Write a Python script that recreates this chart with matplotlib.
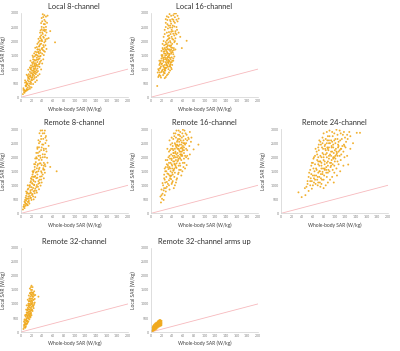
import matplotlib
matplotlib.use("Agg")
import matplotlib.pyplot as plt

# whole-body SAR (W/kg) vs local SAR (W/kg)
local8 = [(4,110),(6,185),(7,255),(5,320),(9,215),(10,385),(11,290),(12,455),(13,345),(8,520),(9,410),(12,265),(15,415),(16,485),(11,505),(17,365),(13,605),(18,565),(10,545),(19,470),
          (14,705),(16,650),(18,780),(20,620),(21,855),(22,720),(17,905),(19,985),(24,880),(25,760),(23,950),(15,820),(26,1005),(27,905),(20,1055),(22,1105),(28,825),(18,1020),(24,1085),(29,965),(21,690),(16,745),(26,690),(30,885),(13,760),(19,860),(23,810),(25,930),(27,1040),(31,1020),
          (25,1205),(27,1305),(29,1155),(31,1255),(23,1350),(26,1455),(30,1405),(32,1105),(28,1505),(33,1350),(35,1205),(24,1255),(36,1455),(22,1185),(34,1555),(30,1605),(38,1305),(27,1620),(31,1485),(37,1585),(29,1330),(33,1450),(26,1150),(35,1380),
          (32,1705),(34,1805),(36,1655),(38,1905),(33,1955),(40,1755),(35,2005),(42,1855),(30,1785),(39,2055),(41,1685),(37,2105),(44,1955),(36,1885),(43,1650),(31,1900),
          (38,2205),(40,2305),(42,2155),(44,2405),(39,2505),(41,2255),(46,2205),(43,2605),(40,2705),(45,2355),(42,2855),(47,2505),(44,2755),(50,2905),(41,2955),(48,2305),(46,2055),(64,1955),(52,2105),(55,2355),(37,2380),(49,2650),
          (5,260),(8,230),(11,240),(14,280),(17,300),(7,160),(20,350),(8,600),(12,480),(15,560),(19,520),(23,470),(27,540),(30,600),(10,430),(21,610),
          (11,800),(14,680),(18,730),(22,790),(26,850),(29,720),(32,770),(35,820),(20,700),(24,640),
          (14,980),(17,1060),(21,940),(24,1010),(28,1100),(32,930),(35,1080),(38,990),(30,1150),(26,1120),(19,1130),
          (18,1300),(21,1240),(25,1330),(28,1210),(32,1340),(36,1260),(40,1200),(42,1350),(34,1170),(23,1430),
          (22,1480),(25,1560),(29,1520),(33,1600),(37,1470),(40,1550),(43,1500),(45,1620),(35,1700),
          (27,1760),(31,1700),(35,1830),(39,1720),(43,1790),(46,1850),(48,1720),(33,1620),
          (33,2080),(36,2150),(40,2000),(43,2120),(46,2000),(49,2080),(38,2010),
          (36,2300),(39,2420),(42,2380),(45,2600),(47,2400),(38,2640),(43,2480),(46,2700),(39,2820),(44,2920),(47,2870)]

local16 = [(12,400),(14,720),(16,800),(13,880),(18,760),(15,950),(17,1020),(20,900),(19,1100),(22,980),(16,1150),(21,1200),(24,1080),(18,1250),(23,1300),(26,1150),(20,1380),(25,1420),(28,1250),(22,1500),(27,1550),(30,1350),(24,1620),(29,1680),(32,1450),(26,1750),(31,1800),(34,1550),(28,1880),(33,1950),(36,1650),(30,2020),(35,2100),(38,1780),(32,2180),(37,2250),(40,1900),(34,2320),(39,2400),(42,2050),(36,2480),(41,2550),(44,2200),(38,2620),(43,2700),(46,2350),(40,2780),(45,2850),(48,2500),(42,2920),(47,2980),(35,2960),(30,2880),(28,2650),(26,2400),(24,2150),(22,1900),(20,1650),(50,2700),(52,2300),(55,2150),(67,2010),(58,1750),(49,1900),(46,1700),(44,1450),(42,1300),(40,1150),(38,1050),(36,950),(34,880),(32,820),(30,780),(28,720),(26,680),(25,850),(27,950),(29,1050),(31,1120),(33,1200),(35,1280),(37,1350),(39,1420),(41,1600),(43,1750),(45,2000),(33,1000),(35,1100),(31,1400),(29,1500),(27,1700),(25,1850),(23,1700),(21,1450),(19,1300),(17,1200),(38,1550),(36,1400),(34,1300),(32,1250),(30,1150),(28,1050),(26,950),(24,900),(37,1950),(39,2150),(41,2350),(33,2550),(31,2750),(36,2750),
           (15,760),(19,700),(23,790),(17,880),(21,940),(26,860),(14,1000),(18,1050),(23,1120),(27,1010),(32,1080),(36,1150),(39,1000),(16,1300),(20,1180),(24,1260),(29,1210),(33,1330),(37,1240),(40,1300),(42,1380),(20,1500),(25,1560),(30,1620),(34,1480),(38,1600),(42,1530),(22,1750),(26,1640),(31,1720),(35,1840),(40,1760),(43,1680),(24,2000),(28,1960),(32,2060),(36,2000),(40,2080),(44,1960),(46,2100),(26,2250),(30,2300),(34,2200),(38,2330),(42,2260),(46,2280),(48,2240),(28,2500),(32,2450),(36,2550),(40,2480),(44,2520),(49,2400),(28,2780),(33,2850),(38,2900),(42,2760),(45,2650),(50,2900),(52,2800),(31,2600),(37,2700),(44,2980),(48,2760),(30,1900),(34,2100),(38,1850),(27,1350),(31,1550),(35,1700),(23,1400),
           (26,1050),(29,1150),(33,1250),(36,1100),(30,1300),(34,1420),(27,1480),(31,1580),(35,1520),(38,1700),(32,1850),(29,1780),(36,1820),(33,1700),(28,1400),(37,1180),(24,1350),(40,1650),(39,1250),(25,1000)]

remote8 = [(4,140),(5,235),(6,305),(7,190),(8,385),(9,270),(10,455),(11,340),(12,525),(8,480),(13,410),(14,605),(10,625),(15,535),(16,705),(12,745),(17,620),(18,825),(14,885),(19,725),(20,935),(16,985),(21,845),(22,1055),(18,1105),(23,905),(24,1155),(20,1225),(25,1005),(26,1305),(22,1385),(27,1125),(28,1455),(24,1505),(29,1255),(30,1605),(26,1655),(31,1385),(32,1755),(28,1825),(33,1505),(34,1905),(30,1955),(35,1625),(36,2055),(32,2155),(37,1785),(38,2255),(34,2355),(39,1905),(40,2455),(36,2555),(41,2105),(42,2655),(38,2755),(43,2305),(44,2855),(40,2955),(46,2505),(48,2205),(45,2005),(50,1805),(67,1500),(55,1655),(52,2405),(47,2755),
           (12,300),(15,410),(18,560),(21,655),(24,785),(27,880),(30,1010),(33,1150),(36,1310),(39,1450),(42,1610),(45,1750),(20,480),(23,605),(26,720),(29,805),(32,950),(35,1085),(38,1205),(41,1385),(44,1555),(9,560),(11,705),(13,850),(17,1005),(19,1150),(21,1305),(23,1455),(25,1755),(27,1955),(29,2155),(31,2355),(33,2605),(35,2855),
           (6,250),(9,340),(13,290),(16,350),(7,420),(11,520),(15,470),(19,550),(24,500),(27,580),(10,780),(14,700),(18,760),(22,690),(26,810),(30,740),(34,860),(13,1000),(17,940),(21,1080),(25,1020),(29,940),(33,1060),(37,990),(39,1100),(19,1250),(23,1200),(27,1330),(31,1270),(35,1200),(39,1320),(43,1250),(22,1500),(26,1560),(30,1480),(34,1580),(38,1500),(42,1560),(45,1450),(27,1750),(31,1700),(35,1780),(39,1720),(43,1800),(46,1680),(29,2000),(33,2050),(37,1980),(41,2000),(45,2100),(49,1980),(31,2300),(35,2200),(39,2350),(43,2250),(47,2300),(34,2500),(38,2650),(42,2450),(46,2700),(41,2850),(45,2950),(37,2950),(48,2600),(43,1700),(24,1300)]

remote16 = [(19,390),(21,520),(18,600),(24,480),(22,700),(26,650),(20,850),(25,900),(28,780),(23,1000),(30,950),(27,1100),(32,1050),(25,1250),(34,1180),(29,1300),(36,1250),(31,1420),(38,1350),(27,1500),(40,1450),(33,1580),(42,1520),(35,1650),(44,1600),(30,1750),(46,1700),(37,1800),(48,1780),(39,1900),(50,1850),(33,2000),(52,1950),(41,2050),(54,2000),(43,2150),(56,2100),(36,2250),(58,2200),(45,2300),(60,2250),(47,2400),(62,2350),(40,2500),(64,2450),(49,2550),(66,2500),(51,2650),(68,2600),(44,2750),(70,2700),(53,2800),(55,2900),(48,2950),(60,2980),(65,2850),(58,2700),(62,2150),(57,1900),(55,1700),(53,1550),(51,1400),(49,1250),(47,1100),(45,1000),(43,900),(41,1150),(39,1050),(37,1500),(35,1350),(63,1800),(66,2000),(68,2250),(72,2400),(75,2550),(80,2280),(89,2450),(73,2100),(70,1950),(61,1650),(59,1500),(57,1350),(46,2000),(50,2150),(52,2300),(54,2450),(56,2600),(42,1850),(44,2050),(46,2200),(48,2350),(38,2100),(36,1950),(34,1800),(32,1650),(42,2650),(46,2850),(50,2420),(58,2530),(61,2750),(26,1600),(28,1900),(31,2300),(67,1720),(64,1600),(35,2600),(54,1780),(56,2320),
            (20,650),(24,820),(28,900),(22,1080),(26,1200),(30,1120),(34,1000),(38,1220),(25,1380),(29,1500),(33,1400),(37,1320),(41,1380),(45,1450),(28,1650),(32,1720),(36,1600),(40,1700),(44,1760),(48,1620),(52,1700),(31,1900),(35,2050),(39,1950),(43,1980),(47,1900),(51,2050),(55,1950),(59,2050),(34,2200),(38,2300),(42,2250),(46,2150),(50,2300),(54,2200),(58,2350),(62,2250),(66,2300),(37,2450),(41,2400),(45,2500),(49,2450),(53,2550),(57,2450),(61,2500),(65,2650),(39,2700),(43,2850),(47,2700),(51,2800),(55,2750),(59,2850),(63,2950),(67,2800),(52,2950),(44,1300),(48,1200),(52,1450),(56,1550),(60,1800),(64,2050),(68,2050),(71,2650),(76,2700),(73,2900),(40,1100),(35,850),
            (40,1600),(44,1850),(48,2100),(52,2400),(56,2200),(60,2400),(47,1650),(51,1900),(55,2100),(59,2300),(63,2500),(42,2150),(46,2450),(50,2600),(54,2650),(58,2100),(62,1950),(45,1750),(49,2000),(53,2250),(57,2050),(41,2300),(39,1750),(43,1550),(61,2600)]

remote24 = [(39,580),(33,750),(46,650),(52,800),(48,950),(55,1000),(58,880),(62,1100),(50,1150),(65,1050),(56,1250),(68,1200),(60,1350),(72,1300),(53,1450),(75,1400),(63,1500),(78,1480),(66,1600),(82,1550),(57,1700),(85,1650),(70,1750),(88,1700),(73,1850),(92,1800),(61,1950),(95,1900),(76,2000),(98,1950),(80,2100),(102,2050),(67,2200),(105,2150),(84,2250),(108,2200),(87,2350),(112,2300),(71,2450),(115,2400),(90,2500),(118,2450),(94,2600),(122,2550),(78,2700),(125,2650),(97,2750),(100,2850),(86,2900),(110,2950),(104,2980),(116,2800),(120,2700),(142,2870),(148,2870),(126,1740),(130,2300),(135,2500),(112,1900),(108,1750),(104,1600),(100,1450),(96,1300),(92,1200),(88,1100),(84,1000),(80,900),(74,950),(70,1450),(66,1350),(62,1250),(58,1150),(90,2050),(94,2200),(98,2350),(102,2500),(106,2650),(82,1850),(86,2000),(76,1600),(72,1700),(68,1900),(64,2050),(60,1800),(79,2300),(83,2450),(87,2600),(91,2750),(95,2400),(99,2150),(103,2300),(107,2450),(111,2600),(113,2100),(117,2200),(121,2350),(81,1350),(85,1450),(89,1550),(93,1650),(97,1750),(101,1850),(77,1200),(73,1100),(69,1000),(91,2950),(74,2550),(70,2350),(128,2900),(119,2000),
            (45,900),(50,1050),(55,1150),(60,1000),(64,1200),(70,1100),(76,1050),(52,1300),(57,1400),(63,1350),(69,1300),(75,1250),(80,1200),(86,1300),(55,1550),(61,1600),(67,1550),(73,1500),(79,1600),(85,1550),(91,1500),(97,1550),(58,1800),(64,1750),(70,1850),(76,1800),(82,1750),(88,1850),(94,1800),(100,1700),(106,1850),(62,2000),(68,2100),(74,2050),(80,2000),(86,2150),(92,2100),(98,2000),(104,2100),(110,2050),(65,2300),(71,2250),(77,2350),(83,2300),(89,2250),(95,2350),(101,2250),(107,2350),(113,2300),(119,2400),(72,2600),(78,2500),(84,2650),(90,2600),(96,2550),(102,2650),(108,2550),(114,2650),(80,2850),(88,2750),(96,2900),(106,2800),(112,2850),(118,2900),(124,2800),(130,2750),(99,1100),(105,1350),(111,1500),(117,1700),(124,2050),
            (72,1500),(76,1700),(80,1900),(84,2100),(88,2300),(92,2500),(96,2200),(100,2000),(104,2200),(108,2400),(78,1400),(82,1600),(86,1800),(90,1950),(94,2050),(98,2450),(74,1850),(70,2000),(78,2150),(82,2400),(86,2500),(90,2350),(94,1700),(102,1950),(106,2050),(110,2250),(75,2450),(80,2600),(100,2600),(88,1450)]

remote32 = [(5,110),(6,180),(7,250),(8,150),(9,320),(6,380),(10,260),(8,420),(11,480),(9,550),(12,400),(10,620),(13,560),(11,700),(14,640),(12,780),(15,720),(13,860),(16,800),(14,940),(17,880),(15,1020),(18,960),(16,1100),(19,1040),(17,1180),(20,1120),(18,1260),(21,1200),(19,1340),(22,1280),(20,1420),(23,1150),(21,1500),(24,1350),(20,1650),(22,1600),(33,1260),(26,1180),(25,1000),(23,900),(21,800),(19,700),(17,600),(15,500),(13,350),(11,300),(9,200),(7,330),(10,450),(12,580),(14,480),(16,650),(18,750),(20,900),(22,1050),(24,950),(19,850),(17,1000),(15,900),(13,700),(11,620),(14,820),(16,950),(18,1100),(20,1300),(22,1400),(12,520),(10,380),(8,280),(15,1100),(17,1380),(19,1500),(21,1000),(23,1250),(16,550),(18,650),(20,780),(25,1450),(27,1320),
            (6,250),(9,180),(12,300),(7,450),(11,400),(14,380),(8,600),(12,680),(15,600),(18,560),(10,800),(13,780),(16,720),(19,650),(11,950),(14,1000),(17,800),(20,1000),(22,950),(13,1150),(16,1200),(19,1180),(21,1100),(24,1150),(15,1300),(18,1400),(21,1350),(23,1400),(19,1600),(17,1550),(25,1300),(26,1050),(22,750),(24,850),(16,450),(18,520),(20,600)]

remote32_up = [(2,40),(3,80),(4,60),(4,130),(5,100),(5,170),(6,140),(6,210),(7,120),(7,190),(8,160),(8,250),(9,200),(9,280),(10,150),(10,240),(11,300),(11,210),(12,260),(12,340),(13,230),(13,310),(14,280),(14,370),(15,250),(15,330),(16,300),(16,400),(17,270),(17,360),(18,320),(18,420),(19,290),(19,380),(20,350),(3,150),(5,220),(8,300),(10,330),(12,200),(14,220),(16,240),(18,260),(20,300),(13,380),(15,410),(17,430),(9,120),(11,170),(6,90),
               (4,200),(6,260),(8,200),(10,280),(12,300),(14,330),(16,350),(18,380),(20,400),(7,70),(9,90),(11,120),(13,160),(15,190),(17,210),(19,230),(20,250),(3,40),(5,50)]

titles = ["Local 8-channel", "Local 16-channel", "Remote 8-channel", "Remote 16-channel",
          "Remote 24-channel", "Remote 32-channel", "Remote 32-channel arms up"]
series = [local8, local16, remote8, remote16, remote24, remote32, remote32_up]
# grid slot (row, col) of each panel
slots = [(0, 0), (0, 1), (1, 0), (1, 1), (1, 2), (2, 0), (2, 1)]

# reference line (local SAR = 5 x whole-body SAR)
ref_x = [0, 200]
ref_y = [0, 1000]

x_ticks = list(range(0, 201, 20))
y_ticks = list(range(0, 3001, 500))

plt.rcParams["font.family"] = ["Lato", "DejaVu Sans"]

fig = plt.figure(figsize=(4.0, 3.51), dpi=100)

lefts = [0.052, 0.377, 0.702]
bottoms = [0.723, 0.392, 0.054]
w, h = 0.2675, 0.240

for title, pts, (r, c) in zip(titles, series, slots):
    ax = fig.add_axes([lefts[c], bottoms[r], w, h])
    xs = [p[0] for p in pts]
    ys = [p[1] for p in pts]
    ax.plot(ref_x, ref_y, color="#f7b9bd", linewidth=0.6, zorder=1)
    ax.scatter(xs, ys, s=1.9, color="#f0a91c", edgecolors="none", alpha=0.9, zorder=2)
    ax.set_xlim(0, 200)
    ax.set_ylim(0, 3000)
    ax.set_xticks(x_ticks)
    ax.set_yticks(y_ticks)
    ax.tick_params(labelsize=2.5, length=0, pad=1.5, colors="#808080")
    for s in ("top", "right"):
        ax.spines[s].set_visible(False)
    for s in ("left", "bottom"):
        ax.spines[s].set_color("#d0d0d0")
        ax.spines[s].set_linewidth(0.5)
    ax.set_title(title, fontsize=5.4, color="#303030", pad=3)
    ax.set_xlabel("Whole-body SAR (W/kg)", fontsize=3.5, color="#404040", labelpad=2)
    ax.set_ylabel("Local SAR (W/kg)", fontsize=3.5, color="#404040", labelpad=3)

fig.savefig("out.png", dpi=100)
